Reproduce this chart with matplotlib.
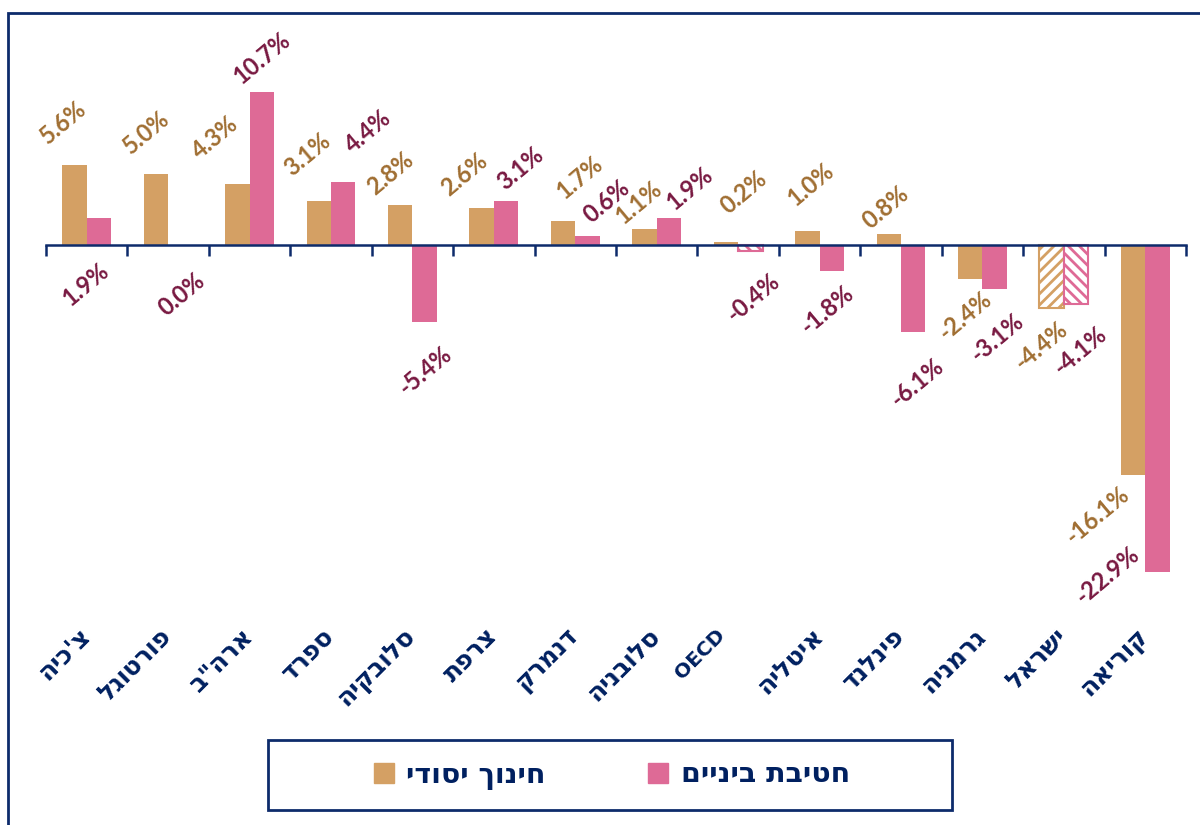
import matplotlib
matplotlib.use("Agg")
import matplotlib.pyplot as plt
from matplotlib.patches import Rectangle
from matplotlib.transforms import offset_copy
import numpy as np

# ---------------- data ----------------
categories = ["צ'כיה", "פורטוגל", 'ארה"ב', "ספרד", "סלובקיה", "צרפת", "דנמרק",
              "סלובניה", "OECD", "איטליה", "פינלנד", "גרמניה", "ישראל", "קוריאה"]
primary = [5.6, 5.0, 4.3, 3.1, 2.8, 2.6, 1.7, 1.1, 0.2, 1.0, 0.8, -2.4, -4.4, -16.1]
middle = [1.9, 0.0, 10.7, 4.4, -5.4, 3.1, 0.6, 1.9, -0.4, -1.8, -6.1, -3.1, -4.1, -22.9]
legend_labels = ["חינוך יסודי", "חטיבת ביניים"]
hatched_primary = ["ישראל"]
hatched_middle = ["ישראל", "OECD"]

# ---------------- label layout (pixel nudges, not data) ----------------
prim_dx = [-11, -10, -22, -11, -10, -17, 17, -6, 18, 3, -3, -5, -10, -36]
prim_dy = [43, 41, 46, 46, 32, 33, 43, 27, 50, 46, 26, 36, 38, 40]
mid_dx = [-13, 1, 0, 25, 1, 14, 19, 21, 3, -5, 4, 3, 4, -50]
mid_dy = [-67, -49, 34, 51, 48, 32, 35, 29, 47, 39, 50, 48, 47, 3]

# ---------------- style ----------------
TAN = "#D4A064"
PINK = "#DE6A96"
TAN_TXT = "#A06E32"
PINK_TXT = "#781941"
NAVY = "#0D2B6B"
HEB = ["DejaVu Sans"]
NUM = ["Lato", "DejaVu Sans"]

def is_heb(s):
    return any('\u0590' <= c <= '\u05ff' for c in s)

def vis(s):
    """Hebrew visual order (matplotlib has no bidi)."""
    return s[::-1] if is_heb(s) else s

plt.rcParams['hatch.linewidth'] = 2.0

DPI = 100
fig = plt.figure(figsize=(12, 8.25), dpi=DPI)
W, H = 1200, 825
ax_left, ax_right = 46 / W, 1186 / W
ax_top, ax_bot = 1 - 20 / H, 1 - 600 / H
ax = fig.add_axes([ax_left, ax_bot, ax_right - ax_left, ax_top - ax_bot])

x = np.arange(len(categories))
bw = 0.30
for i, (c, p, m) in enumerate(zip(categories, primary, middle)):
    if c in hatched_primary:
        ax.bar(x[i] - bw / 2, p, bw, facecolor="white", edgecolor=TAN, hatch="///", linewidth=1.5)
    else:
        ax.bar(x[i] - bw / 2, p, bw, color=TAN, linewidth=0)
    if c in hatched_middle:
        ax.bar(x[i] + bw / 2, m, bw, facecolor="white", edgecolor=PINK, hatch="\\\\\\", linewidth=1.5)
    else:
        ax.bar(x[i] + bw / 2, m, bw, color=PINK, linewidth=0)

ax.set_xlim(-0.5, len(categories) - 0.5)
ax.set_ylim(-(600 - 245) / 14.29, (245 - 20) / 14.29)

# axis styling
for s in ["top", "right", "left"]:
    ax.spines[s].set_visible(False)
ax.spines["bottom"].set_position(("data", 0))
ax.spines["bottom"].set_color(NAVY)
ax.spines["bottom"].set_linewidth(1.8)
ax.set_yticks([])
ax.set_xticks(np.arange(-0.5, len(categories), 1.0))
ax.set_xticklabels([])
ax.tick_params(axis="x", direction="out", length=8, width=1.8, color=NAVY)
ax.patch.set_visible(False)

# category labels
for i, c in enumerate(categories):
    heb = is_heb(c)
    ax.text(x[i] + (0.0 if heb else -0.2), -27.1, vis(c), rotation=45, rotation_mode="anchor",
            ha="right", va="center", fontsize=18 if heb else 14.5, fontweight="bold",
            color="#002060", family=HEB)

# value labels (placed at bar end, nudged by pixel offsets)
for i in range(len(categories)):
    for vals, sh, col, dxs, dys in ((primary, -bw / 2, TAN_TXT, prim_dx, prim_dy),
                                    (middle, bw / 2, PINK_TXT, mid_dx, mid_dy)):
        v = vals[i]
        sgn = 1 if v >= 0 else -1
        tr = offset_copy(ax.transData, fig=fig, x=dxs[i] * 72 / DPI,
                         y=sgn * dys[i] * 72 / DPI, units="points")
        ax.text(x[i] + sh, v, f"{v:.1f}%", transform=tr, rotation=40,
                ha="center", va="center", fontsize=17, fontweight="bold",
                color=col, family=NUM)

# outer frame
fig.patches.append(Rectangle((8 / W, -0.1), 1.2, 1.1 - 13 / H, transform=fig.transFigure,
                             fill=False, edgecolor=NAVY, linewidth=2))

# legend box
fig.patches.append(Rectangle((268 / W, 1 - 810 / H), 684 / W, 70 / H, transform=fig.transFigure,
                             fill=False, edgecolor=NAVY, linewidth=2))
handles = [Rectangle((0, 0), 1, 1, color=TAN), Rectangle((0, 0), 1, 1, color=PINK)]
fig.legend(handles, [vis(l) for l in legend_labels], loc="center",
           bbox_to_anchor=(612 / W, 1 - 775 / H), ncol=2, frameon=False,
           prop={"family": HEB, "weight": "bold", "size": 20.5},
           handlelength=0.7, handleheight=0.7, handletextpad=0.45, columnspacing=3.6,
           labelcolor="#002060")

fig.savefig("out.png", dpi=DPI)
